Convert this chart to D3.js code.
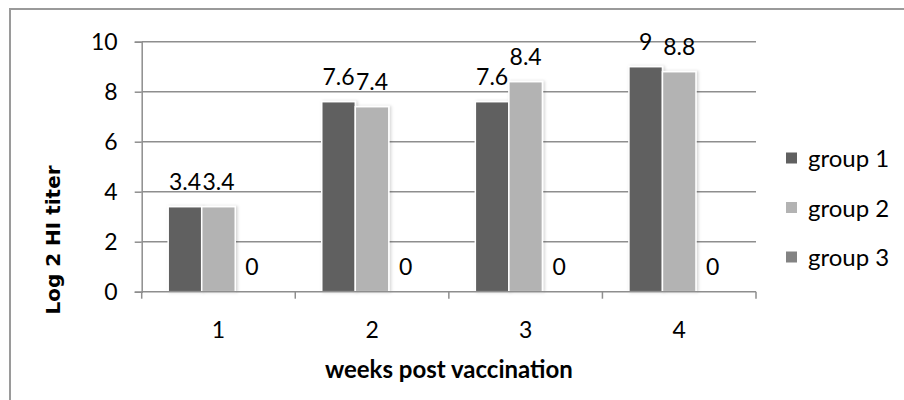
<!DOCTYPE html>
<html>
<head>
<meta charset="utf-8">
<script src="https://cdn.jsdelivr.net/npm/d3@7"></script>
<style>
  html, body { margin: 0; padding: 0; background: #fff; }
  svg { display: block; }
  text { font-family: Lato, "Open Sans", sans-serif; fill: #000; }
</style>
</head>
<body>
<svg id="chart" width="904" height="400"></svg>
<script>
const weeks = ["1", "2", "3", "4"];
const groups = ["group 1", "group 2", "group 3"];
const group1 = [3.4, 7.6, 7.6, 9];
const group2 = [3.4, 7.4, 8.4, 8.8];
const group3 = [0, 0, 0, 0];
const yTicks = [0, 2, 4, 6, 8, 10];
const xTitle = "weeks post vaccination";
const yTitle = "Log 2 HI titer";

const seriesValues = [group1, group2, group3];
const colors = ["#606060", "#b3b3b3", "#838383"];

const svg = d3.select("#chart");
const plot = { left: 141.7, right: 756, top: 41.7, bottom: 291.7 };
const FS = 23;

// outer chart border (extends past the right/bottom edges)
svg.append("rect").attr("x", 10).attr("y", 9).attr("width", 1000).attr("height", 1000)
  .attr("fill", "#fff").attr("stroke", "#9a9a9a").attr("stroke-width", 2);

const defs = svg.append("defs");
const f = defs.append("filter").attr("id", "shadow").attr("x", "-20%").attr("y", "-10%").attr("width", "140%").attr("height", "120%");
f.append("feDropShadow").attr("dx", 1.5).attr("dy", 0).attr("stdDeviation", 1.5)
  .attr("flood-color", "#000").attr("flood-opacity", 0.18);

const y = d3.scaleLinear().domain([0, 10]).range([plot.bottom, plot.top]);
const x0 = d3.scaleBand().domain(weeks).range([plot.left, plot.right]).padding(0);
const x1 = d3.scaleBand().domain(groups).range([0, x0.bandwidth()]).paddingInner(0).paddingOuter(0.79);

// gridlines
svg.append("g").selectAll("line").data(yTicks.filter(t => t > 0)).join("line")
  .attr("x1", plot.left).attr("x2", plot.right)
  .attr("y1", d => y(d)).attr("y2", d => y(d))
  .attr("stroke", "#8e8e8e").attr("stroke-width", 1.5);

// y axis
const yAxis = d3.axisLeft(y).tickValues(yTicks).tickSize(7).tickPadding(17).tickFormat(d3.format("d"));
const gy = svg.append("g").attr("transform", `translate(${plot.left},0)`).call(yAxis);
gy.select(".domain").attr("stroke", "#8e8e8e").attr("stroke-width", 1.5);
gy.selectAll(".tick line").attr("stroke", "#8e8e8e").attr("stroke-width", 1.5);
gy.selectAll(".tick text").attr("font-family", "Lato, sans-serif").attr("font-size", FS).attr("fill", "#000");

// bars
const gWeeks = svg.append("g").selectAll("g").data(weeks).join("g")
  .attr("transform", d => `translate(${x0(d)},0)`);

gWeeks.selectAll("rect").data((w, i) => groups.map((g, k) => ({ g, k, v: seriesValues[k][i] })))
  .join("rect")
  .attr("x", d => x1(d.g)).attr("width", x1.bandwidth())
  .attr("y", d => y(d.v)).attr("height", d => y(0) - y(d.v))
  .attr("fill", d => colors[d.k])
  .attr("stroke", "#fff").attr("stroke-width", 1.5)
  .attr("filter", "url(#shadow)");

// data labels
gWeeks.selectAll("text.lbl").data((w, i) => groups.map((g, k) => ({ g, k, v: seriesValues[k][i] })))
  .join("text").attr("class", "lbl")
  .attr("x", d => x1(d.g) + x1.bandwidth() / 2)
  .attr("y", d => y(d.v) - 17)
  .attr("text-anchor", "middle")
  .attr("font-size", FS)
  .text(d => String(d.v));

// x axis
const xAxis = d3.axisBottom(x0).tickSize(0).tickPadding(30);
const gx = svg.append("g").attr("transform", `translate(0,${plot.bottom})`).call(xAxis);
gx.select(".domain").remove();
gx.append("line").attr("x1", plot.left).attr("x2", plot.right).attr("y1", 0).attr("y2", 0)
  .attr("stroke", "#8e8e8e").attr("stroke-width", 1.5);
const xEdges = weeks.map(w => x0(w)).concat([plot.right]);
gx.selectAll("line.edge").data(xEdges).join("line").attr("class", "edge")
  .attr("x1", d => d).attr("x2", d => d).attr("y1", 0).attr("y2", 7)
  .attr("stroke", "#8e8e8e").attr("stroke-width", 1.5);
gx.selectAll(".tick text").attr("font-family", "Lato, sans-serif").attr("font-size", FS).attr("fill", "#000");

// axis titles
svg.append("text").attr("x", (plot.left + plot.right) / 2).attr("y", 378)
  .attr("text-anchor", "middle").attr("font-weight", "bold").attr("font-size", 24)
  .text(xTitle);

svg.append("text").attr("transform", "translate(60,240) rotate(-90)")
  .attr("text-anchor", "middle").attr("font-weight", "bold").attr("font-size", 20)
  .style("font-family", "'DejaVu Sans', sans-serif")
  .text(yTitle);

// legend
const lg = svg.append("g").selectAll("g").data(groups).join("g")
  .attr("transform", (d, i) => `translate(786,${158 + i * 49.5})`);
lg.append("rect").attr("x", 0).attr("y", -5.5).attr("width", 11).attr("height", 11)
  .attr("fill", (d, i) => colors[i]);
lg.append("text").attr("x", 22).attr("y", 9).attr("font-size", 24).text(d => d);
</script>
</body>
</html>
